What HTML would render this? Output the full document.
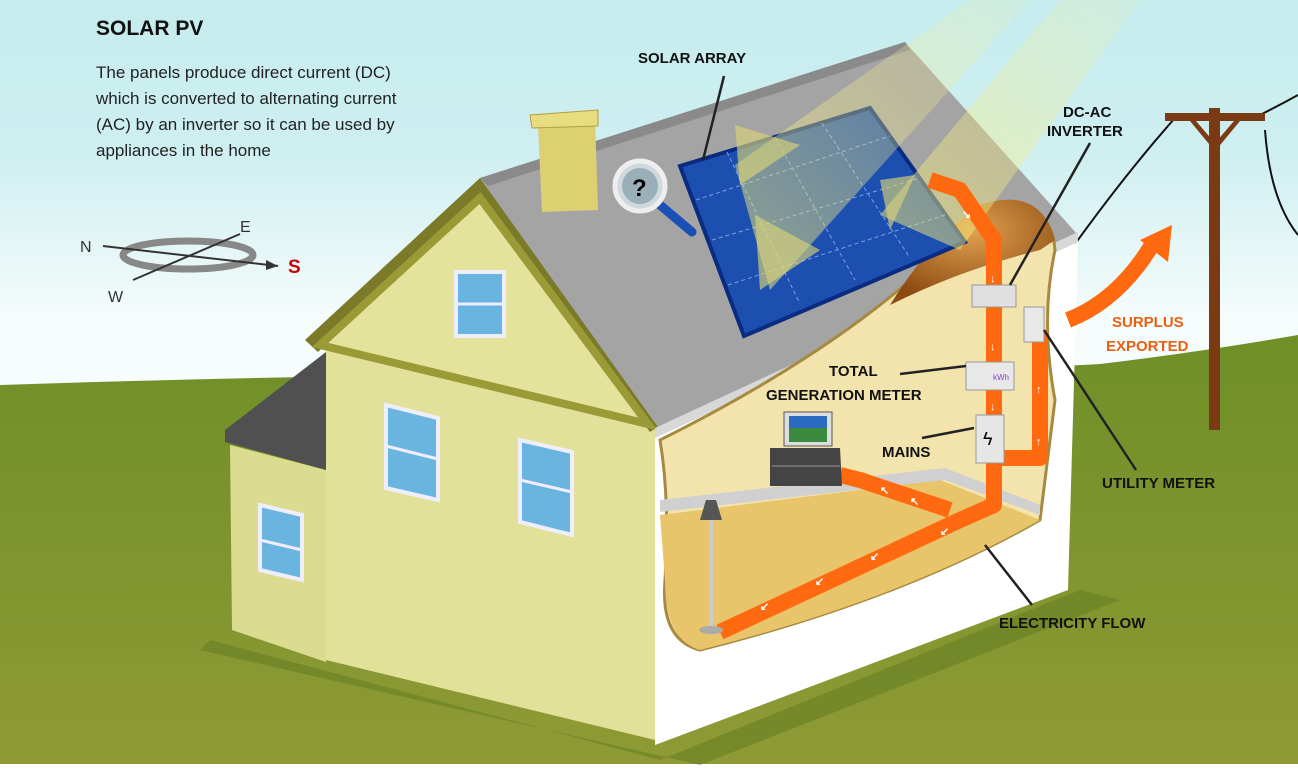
<!DOCTYPE html>
<html><head><meta charset="utf-8"><style>
html,body{margin:0;padding:0;background:#fff}
svg{display:block}
text{font-family:"Liberation Sans",Arial,sans-serif}
.l{font-weight:bold;font-size:15px;fill:#111}
</style></head><body>
<svg width="1298" height="770" viewBox="0 0 1298 770" xmlns="http://www.w3.org/2000/svg">
<defs>
<linearGradient id="sky" x1="0" y1="0" x2="0" y2="1">
<stop offset="0" stop-color="#c6ecee"/><stop offset="0.2" stop-color="#cfeff0"/><stop offset="0.42" stop-color="#f6fcfc"/><stop offset="1" stop-color="#ffffff"/></linearGradient>
<linearGradient id="grass" x1="0" y1="0" x2="0" y2="1">
<stop offset="0" stop-color="#6f8f28"/><stop offset="1" stop-color="#8f9a35"/></linearGradient>
<linearGradient id="ray" x1="1" y1="0" x2="0" y2="1">
<stop offset="0" stop-color="#f4f0a0" stop-opacity="0.15"/><stop offset="1" stop-color="#f4ea70" stop-opacity="0.55"/></linearGradient>
<radialGradient id="attic" cx="0.5" cy="0.3" r="0.7"><stop offset="0" stop-color="#e0a050"/><stop offset="1" stop-color="#8a4a10"/></radialGradient>
</defs>
<rect width="1298" height="770" fill="url(#sky)"/>
<path d="M0 385 Q300 375 650 372 Q1000 370 1100 364 Q1200 352 1298 335 L1298 765 L0 765 Z" fill="url(#grass)"/>
<rect x="0" y="764" width="1298" height="6" fill="#fff"/>
<path d="M210 640 L660 760 L1080 590 L1120 600 L700 765 L200 650Z" fill="#5f7a20" opacity="0.5"/>
<path d="M1060 265 Q1120 180 1175 118" stroke="#111" stroke-width="2" fill="none"/>
<path d="M1260 115 Q1280 105 1298 95" stroke="#111" stroke-width="2" fill="none"/>
<path d="M1265 130 Q1270 200 1298 235" stroke="#111" stroke-width="2" fill="none"/>
<rect x="1209" y="108" width="11" height="322" fill="#7a3a14"/>
<rect x="1165" y="113" width="100" height="8" fill="#7a3a14"/>
<path d="M1190 121 L1214 150 L1214 142 L1196 121Z M1240 121 L1216 150 L1216 142 L1234 121Z" fill="#7a3a14"/>
<path d="M230 445 L326 470 L326 662 L232 630Z" fill="#dcdc90"/>
<path d="M225 430 L326 352 L326 470 L225 442Z" fill="#505050"/>
<path d="M326 345 L655 430 L655 740 L326 660Z" fill="#e2e19a"/>
<path d="M305 340 L480 178 L660 425 L650 432 L480 200 L318 352Z" fill="#7a7a28"/>
<path d="M320 345 L480 198 L648 424Z" fill="#e4e39c" stroke="#9a9a36" stroke-width="8"/>
<path d="M480 178 L905 42 L1078 235 L660 430Z" fill="#a4a4a4"/>
<path d="M480 178 L905 42 L910 50 L488 186Z" fill="#8a8a8a"/>
<path d="M655 428 L1078 232 L1078 242 L655 440Z" fill="#d8d8d8"/>
<path d="M655 438 L1078 242 L1068 590 L655 745Z" fill="#fff"/>
<path d="M660 440 Q880 330 980 210 Q1050 190 1055 250 Q1040 320 1055 400 Q1045 480 1040 520 Q900 600 700 650 Q660 640 665 580 Q670 500 660 440Z" fill="#f3e3ad" stroke="#a58a40" stroke-width="3"/>
<path d="M890 305 Q930 240 980 205 Q1040 185 1055 240 L1040 250 Q960 270 890 305Z" fill="url(#attic)"/>
<path d="M660 515 L940 480 L1040 520 Q900 600 700 650 Q665 640 665 580Z" fill="#e8c46a"/>
<path d="M660 500 L945 468 L1040 505 L1040 515 L945 480 L660 512Z" fill="#d0d0d0"/>
<path d="M538 125 L595 118 L598 210 L542 212Z" fill="#ddd070"/>
<path d="M530 115 L598 110 L598 126 L532 128Z" fill="#e8dc80" stroke="#b0a040"/>
<g fill="#6ab4e0" stroke="#eef" stroke-width="4">
<rect x="456" y="272" width="48" height="64"/>
<path d="M386 405 L438 418 L438 500 L386 488Z"/>
<path d="M520 440 L572 452 L572 535 L520 522Z"/>
<path d="M260 505 L302 515 L302 580 L260 570Z"/>
</g>
<g stroke="#eef" stroke-width="3"><line x1="456" y1="304" x2="504" y2="304"/><line x1="386" y1="446" x2="438" y2="459"/><line x1="520" y1="480" x2="572" y2="492"/><line x1="260" y1="540" x2="302" y2="550"/></g>
<path d="M680 166 L870 108 L965 242 L744 336Z" fill="#1d4fb0" stroke="#0a2c80" stroke-width="4"/>
<g stroke="#7aa0e0" stroke-width="1" stroke-dasharray="4 3" fill="none">
<path d="M727 152 L800 304 M775 137 L855 280 M822 123 L910 258 M696 200 L890 136 M712 240 L920 178 M728 285 L945 215"/>
</g>
<path d="M1060 0 L1140 0 L960 250 L880 215Z" fill="url(#ray)"/>
<path d="M970 0 L1030 0 L770 290 L735 165Z" fill="url(#ray)"/>
<path d="M735 125 L800 145 L740 185Z M755 215 L820 250 L760 290Z M880 180 L915 175 L890 230Z" fill="#d8d27a" opacity="0.65"/>
<line x1="660" y1="205" x2="692" y2="232" stroke="#1a4fb5" stroke-width="9" stroke-linecap="round"/>
<circle cx="640" cy="186" r="25" fill="#cfd8dc" stroke="#eee" stroke-width="5"/>
<circle cx="640" cy="186" r="18" fill="#9ab0b8"/>
<text x="632" y="196" font-size="24" font-weight="bold" fill="#000">?</text>
<g fill="none" stroke="#ff6a10" stroke-width="16" stroke-linejoin="round">
<path d="M930 180 L960 190 L994 240 L994 505 L960 520 L720 632"/>
<path d="M950 510 L860 480 L840 475"/>
<path d="M1040 330 L1040 458 L1000 458"/>
<path d="M1068 320 Q1120 300 1155 240"/>
</g>
<path d="M1140 240 L1172 225 L1168 262Z" fill="#ff6a10"/>
<g fill="#fff" font-size="11" font-weight="bold">
<text x="962" y="218">↘</text><text x="990" y="282">↓</text><text x="990" y="350">↓</text><text x="990" y="410">↓</text>
<text x="1036" y="393">↑</text><text x="1036" y="445">↑</text>
<text x="880" y="494">↖</text><text x="910" y="505">↖</text>
<text x="870" y="560">↙</text><text x="815" y="585">↙</text><text x="760" y="610">↙</text><text x="940" y="535">↙</text>
</g>
<rect x="972" y="285" width="44" height="22" fill="#e0e0e0" stroke="#999"/>
<rect x="1024" y="307" width="20" height="35" fill="#e8e8e8" stroke="#999"/>
<rect x="966" y="362" width="48" height="28" fill="#e8e8e8" stroke="#999"/>
<text x="993" y="380" font-size="8" fill="#84c">kWh</text>
<rect x="976" y="415" width="28" height="48" fill="#e6e6e6" stroke="#999"/>
<text x="983" y="445" font-size="18" fill="#000">ϟ</text>
<rect x="784" y="412" width="48" height="34" fill="#ddd" stroke="#555"/>
<rect x="789" y="416" width="38" height="26" fill="#3a8a40"/>
<rect x="789" y="416" width="38" height="12" fill="#2a6ac0"/>
<path d="M770 448 L840 448 L842 486 L770 486Z" fill="#444"/>
<line x1="772" y1="466" x2="840" y2="466" stroke="#999"/>
<path d="M700 520 L722 520 L716 500 L706 500Z" fill="#555"/>
<rect x="709" y="520" width="4" height="110" fill="#ccc"/>
<ellipse cx="711" cy="630" rx="12" ry="4" fill="#aaa"/>
<ellipse cx="188" cy="255" rx="65" ry="14" fill="none" stroke="#888" stroke-width="7"/>
<line x1="103" y1="246" x2="278" y2="266" stroke="#333" stroke-width="2"/>
<line x1="133" y1="280" x2="240" y2="234" stroke="#333" stroke-width="2"/>
<path d="M278 266 L266 260 L266 270Z" fill="#333"/>
<text x="80" y="252" font-size="16" fill="#333">N</text>
<text x="240" y="232" font-size="16" fill="#333">E</text>
<text x="108" y="302" font-size="16" fill="#333">W</text>
<text x="288" y="273" font-size="19" font-weight="bold" fill="#c00">S</text>
<text x="96" y="35" font-size="21" font-weight="bold" fill="#111">SOLAR PV</text>
<g font-size="17" fill="#222">
<text x="96" y="78">The panels produce direct current (DC)</text>
<text x="96" y="104">which is converted to alternating current</text>
<text x="96" y="130">(AC) by an inverter so it can be used by</text>
<text x="96" y="156">appliances in the home</text>
</g>
<g stroke="#222" stroke-width="2.5">
<line x1="724" y1="76" x2="703" y2="160"/>
<line x1="1090" y1="143" x2="1010" y2="285"/>
<line x1="900" y1="374" x2="966" y2="366"/>
<line x1="922" y1="438" x2="974" y2="428"/>
<line x1="1044" y1="330" x2="1136" y2="470"/>
<line x1="985" y1="545" x2="1032" y2="605"/>
</g>
<text class="l" x="638" y="63">SOLAR ARRAY</text>
<text class="l" x="1063" y="117">DC-AC</text>
<text class="l" x="1047" y="136">INVERTER</text>
<text class="l" x="829" y="376">TOTAL</text>
<text class="l" x="766" y="400">GENERATION METER</text>
<text class="l" x="882" y="457">MAINS</text>
<text class="l" x="1102" y="488">UTILITY METER</text>
<text class="l" x="999" y="628">ELECTRICITY FLOW</text>
<text x="1112" y="327" font-size="15" font-weight="bold" fill="#e86010">SURPLUS</text>
<text x="1106" y="351" font-size="15" font-weight="bold" fill="#e86010">EXPORTED</text>
</svg>
</body></html>
